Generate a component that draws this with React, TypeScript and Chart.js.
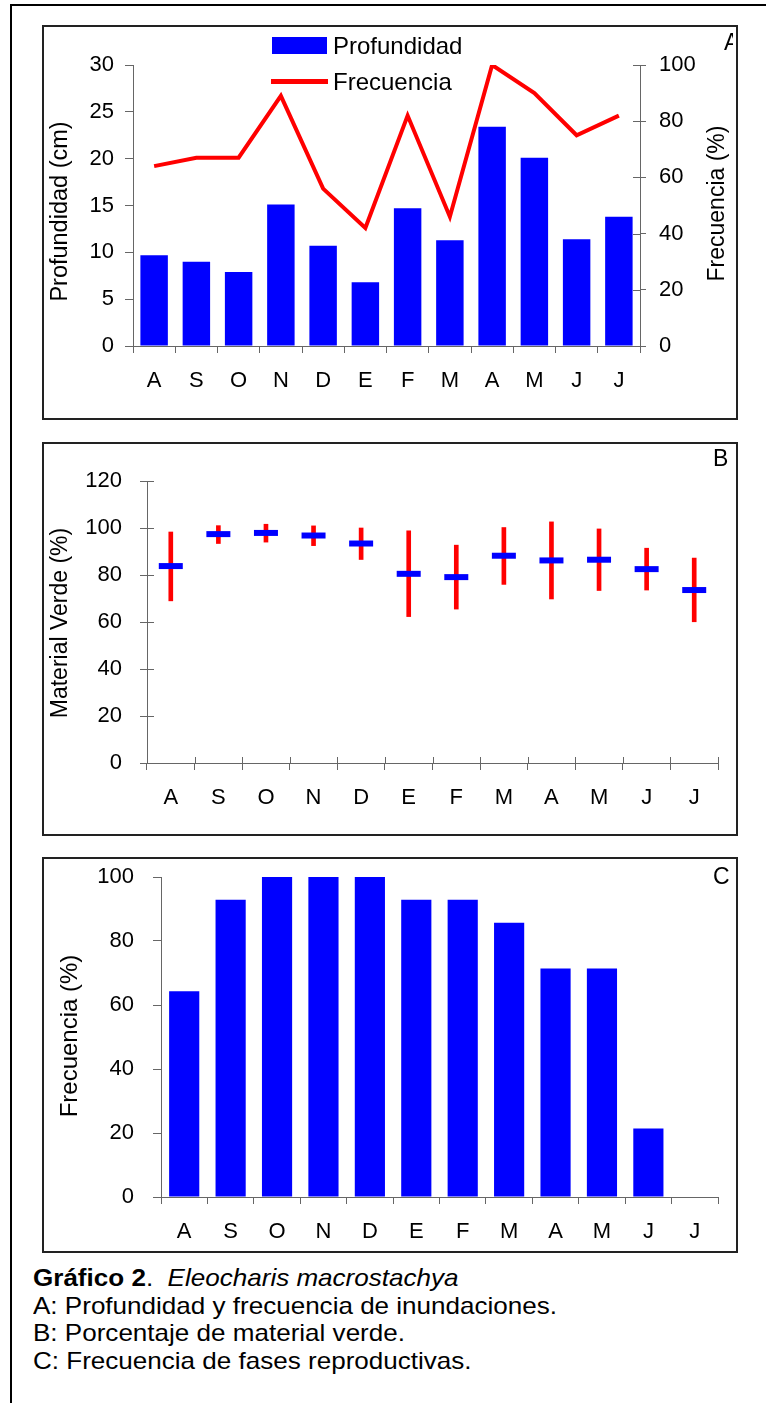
import React, { useEffect, useRef } from "react";
import { Chart, registerables } from "chart.js";

Chart.register(...registerables);

const FONT = "'Liberation Sans', Arial, Helvetica, sans-serif";
const AXIS = "#666666";
const BLUE = "#0000ff";
const RED = "#ff0000";

// ---------- data ----------
const months = ["A", "S", "O", "N", "D", "E", "F", "M", "A", "M", "J", "J"];

// Panel A
const profundidadCm = [9.7, 9.0, 7.9, 15.1, 10.7, 6.8, 14.7, 11.3, 23.4, 20.1, 11.4, 13.8];
const frecuenciaInundacion = [64, 67, 67, 89, 56, 42, 82, 46, 100, 90, 75, 82];

// Panel B
const verdeMedia = [83.8, 97.4, 97.9, 96.8, 93.4, 80.5, 79.1, 88.2, 86.2, 86.5, 82.5, 73.6];
const verdeMin = [69.0, 93.4, 94.0, 92.5, 86.6, 62.3, 65.5, 76.0, 69.8, 73.4, 73.6, 60.1];
const verdeMax = [98.3, 101.0, 101.6, 100.9, 100.0, 98.8, 92.7, 100.2, 102.6, 99.6, 91.4, 87.2];

// Panel C
const frecuenciaReproductiva = [64.3, 92.9, 100, 100, 100, 92.9, 92.9, 85.7, 71.4, 71.4, 21.4, 0];

const legendLabels = ["Profundidad", "Frecuencia"];
const titleA = { left: "Profundidad (cm)", right: "Frecuencia (%)" };
const titleB = "Material Verde (%)";
const titleC = "Frecuencia (%)";

// ---------- plugin for cross ticks and rotated axis titles ----------
const extrasPlugin = {
  id: "extras",
  afterDraw(chart: any, _args: any, opts: any) {
    const ctx = chart.ctx;
    const crossTicks = (opts && opts.crossTicks) || [];
    ctx.save();
    ctx.strokeStyle = AXIS;
    ctx.lineWidth = 1;
    for (const ct of crossTicks) {
      const s = chart.scales[ct.id];
      if (!s) continue;
      ctx.beginPath();
      if (s.isHorizontal()) {
        const y = s.top;
        const n = s.ticks.length;
        for (let i = 0; i <= n; i++) {
          const x = Math.round(s.getPixelForValue(i - 0.5)) + 0.5;
          ctx.moveTo(x, y);
          ctx.lineTo(x, y - ct.len);
        }
      } else {
        const left = s.position === "left";
        const x = left ? s.right : s.left;
        const dir = left ? 1 : -1;
        for (const t of s.ticks) {
          const y = Math.round(s.getPixelForValue(t.value)) + 0.5;
          ctx.moveTo(x, y);
          ctx.lineTo(x + dir * ct.len, y);
        }
      }
      ctx.stroke();
    }
    ctx.restore();
    const titles = (opts && opts.titles) || [];
    for (const t of titles) {
      const area = chart.chartArea;
      ctx.save();
      ctx.fillStyle = "#000";
      ctx.font = `${t.size}px ${FONT}`;
      ctx.textAlign = "center";
      ctx.textBaseline = "middle";
      ctx.translate(t.x, (area.top + area.bottom) / 2 + (t.dy || 0));
      ctx.rotate(-Math.PI / 2);
      ctx.fillText(t.text, 0, 0);
      ctx.restore();
    }
  },
};

function xScale(tickLen: number, pad: number, height: number) {
  return {
    type: "category",
    offset: true,
    grid: {
      offset: true,
      drawOnChartArea: false,
      drawTicks: true,
      tickLength: tickLen,
      color: AXIS,
      lineWidth: 1,
    },
    border: { display: true, color: AXIS, width: 1 },
    ticks: {
      color: "#000",
      font: { size: 22, family: FONT },
      padding: pad,
      maxRotation: 0,
      minRotation: 0,
      autoSkip: false,
    },
    afterFit: (s: any) => {
      s.height = height;
    },
  };
}

function yScale(o: {
  position: "left" | "right";
  min: number;
  max: number;
  step: number;
  tickLen: number;
  pad: number;
  width: number;
}) {
  return {
    type: "linear",
    position: o.position,
    min: o.min,
    max: o.max,
    grid: {
      drawOnChartArea: false,
      drawTicks: true,
      tickLength: o.tickLen,
      color: AXIS,
      lineWidth: 1,
    },
    border: { display: true, color: AXIS, width: 1 },
    ticks: {
      stepSize: o.step,
      color: "#000",
      font: { size: 22, family: FONT },
      padding: o.pad,
    },
    title: { display: false },
    afterFit: (s: any) => {
      s.width = o.width;
      s.paddingTop = 0;
      s.paddingBottom = 0;
    },
  };
}

function ChartCanvas({ config, width, height }: { config: any; width: number; height: number }) {
  const ref = useRef<HTMLCanvasElement>(null);
  useEffect(() => {
    const chart = new Chart(ref.current as HTMLCanvasElement, config);
    return () => chart.destroy();
  }, []);
  return (
    <canvas
      ref={ref}
      width={width}
      height={height}
      style={{ display: "block", width, height, position: "absolute", left: 0, top: 0 }}
    />
  );
}

const baseOptions = {
  responsive: false,
  animation: false,
  devicePixelRatio: 1,
  events: [],
};

const configA = {
  type: "bar",
  data: {
    labels: months,
    datasets: [
      {
        type: "line",
        label: legendLabels[1],
        data: frecuenciaInundacion,
        yAxisID: "yR",
        borderColor: RED,
        borderWidth: 4,
        pointRadius: 0,
        tension: 0,
        fill: false,
      },
      {
        type: "bar",
        label: legendLabels[0],
        data: profundidadCm,
        yAxisID: "y",
        backgroundColor: BLUE,
        borderWidth: 0,
        barPercentage: 0.65,
        categoryPercentage: 1,
      },
    ],
  },
  options: {
    ...baseOptions,
    layout: { padding: { top: 38, left: 0, right: 0, bottom: 0 } },
    scales: {
      x: xScale(7, 15, 72),
      y: yScale({ position: "left", min: 0, max: 30, step: 5, tickLen: 8, pad: 11, width: 89 }),
      yR: yScale({ position: "right", min: 0, max: 100, step: 20, tickLen: 6, pad: 13, width: 96 }),
    },
    plugins: {
      legend: { display: false },
      tooltip: { enabled: false },
      extras: {
        crossTicks: [{ id: "yR", len: 7 }],
        titles: [
          { text: titleA.left, x: 17, dy: 6, size: 23.5 },
          { text: titleA.right, x: 674, dy: -2, size: 23 },
        ],
      },
    },
  },
  plugins: [extrasPlugin],
};

const configB = {
  type: "bar",
  data: {
    labels: months,
    datasets: [
      {
        type: "line",
        label: "Media",
        data: verdeMedia,
        showLine: false,
        pointStyle: "line",
        pointRadius: 12,
        pointBorderWidth: 6,
        borderColor: BLUE,
        pointBorderColor: BLUE,
        backgroundColor: BLUE,
      },
      {
        type: "bar",
        label: "Rango",
        data: months.map((_, i) => [verdeMin[i], verdeMax[i]]),
        backgroundColor: RED,
        borderWidth: 0,
        barThickness: 4,
      },
    ],
  },
  options: {
    ...baseOptions,
    layout: { padding: { top: 37, left: 0, right: 18, bottom: 0 } },
    scales: {
      x: xScale(7, 15, 71),
      y: yScale({ position: "left", min: 0, max: 120, step: 20, tickLen: 7, pad: 18, width: 103 }),
    },
    plugins: {
      legend: { display: false },
      tooltip: { enabled: false },
      extras: {
        crossTicks: [{ id: "y", len: 7 }, { id: "x", len: 6 }],
        titles: [{ text: titleB, x: 17, dy: 1, size: 23 }],
      },
    },
  },
  plugins: [extrasPlugin],
};

const configC = {
  type: "bar",
  data: {
    labels: months,
    datasets: [
      {
        label: titleC,
        data: frecuenciaReproductiva,
        backgroundColor: BLUE,
        borderWidth: 0,
        barPercentage: 0.65,
        categoryPercentage: 1,
      },
    ],
  },
  options: {
    ...baseOptions,
    layout: { padding: { top: 18, left: 0, right: 18, bottom: 0 } },
    scales: {
      x: xScale(7, 15, 54),
      y: yScale({ position: "left", min: 0, max: 100, step: 20, tickLen: 8, pad: 19, width: 117 }),
    },
    plugins: {
      legend: { display: false },
      tooltip: { enabled: false },
      extras: {
        titles: [{ text: titleC, x: 26, dy: -1, size: 24 }],
      },
    },
  },
  plugins: [extrasPlugin],
};

const boxStyle = (left: number, top: number, width: number, height: number): React.CSSProperties => ({
  position: "absolute",
  left,
  top,
  width,
  height,
  boxSizing: "border-box",
  border: "2px solid #222",
  overflow: "hidden",
  background: "#fff",
});

const textBase: React.CSSProperties = {
  position: "absolute",
  fontFamily: FONT,
  fontSize: 24,
  lineHeight: "24px",
  color: "#000",
  whiteSpace: "pre",
};

export default function App() {
  return (
    <div
      style={{
        position: "absolute",
        left: 0,
        top: 0,
        width: 766,
        height: 1403,
        overflow: "hidden",
        background: "#fff",
        fontFamily: FONT,
      }}
    >
      {/* outer frame */}
      <div
        style={{
          position: "absolute",
          left: 10,
          top: 4,
          width: 900,
          height: 1600,
          borderTop: "2px solid #000",
          borderLeft: "2px solid #000",
        }}
      />

      {/* Panel A */}
      <div style={boxStyle(42, 25, 696, 395)}>
        <ChartCanvas config={configA} width={692} height={391} />
        <div style={{ position: "absolute", left: 228, top: 10, width: 55, height: 17, background: BLUE }} />
        <div style={{ ...textBase, left: 289, top: 7 }}>{legendLabels[0]}</div>
        <div style={{ position: "absolute", left: 227, top: 52, width: 57, height: 5, background: RED }} />
        <div style={{ ...textBase, left: 289, top: 43 }}>{legendLabels[1]}</div>
        <div style={{ position: "absolute", left: 680, top: 4, width: 9, height: 26, overflow: "hidden" }}>
          <div style={{ ...textBase, fontSize: 23, lineHeight: "23px", left: 0, top: 0 }}>A</div>
        </div>
      </div>

      {/* Panel B */}
      <div style={boxStyle(42, 442, 696, 394)}>
        <ChartCanvas config={configB} width={692} height={390} />
        <div style={{ ...textBase, fontSize: 23, lineHeight: "23px", left: 669, top: 3 }}>B</div>
      </div>

      {/* Panel C */}
      <div style={boxStyle(42, 857, 696, 396)}>
        <ChartCanvas config={configC} width={692} height={392} />
        <div style={{ ...textBase, fontSize: 23, lineHeight: "23px", left: 669, top: 6 }}>C</div>
      </div>

      {/* Caption */}
      <div
        style={{
          position: "absolute",
          left: 33,
          top: 1264,
          fontFamily: FONT,
          fontSize: 24,
          lineHeight: "27.7px",
          color: "#000",
          whiteSpace: "pre",
          transform: "scaleX(1.085)",
          transformOrigin: "0 0",
        }}
      >
        <div>
          <b>Gráfico 2</b>.  <i>Eleocharis macrostachya</i>
        </div>
        <div>A: Profundidad y frecuencia de inundaciones.</div>
        <div>B: Porcentaje de material verde.</div>
        <div>C: Frecuencia de fases reproductivas.</div>
      </div>
    </div>
  );
}
